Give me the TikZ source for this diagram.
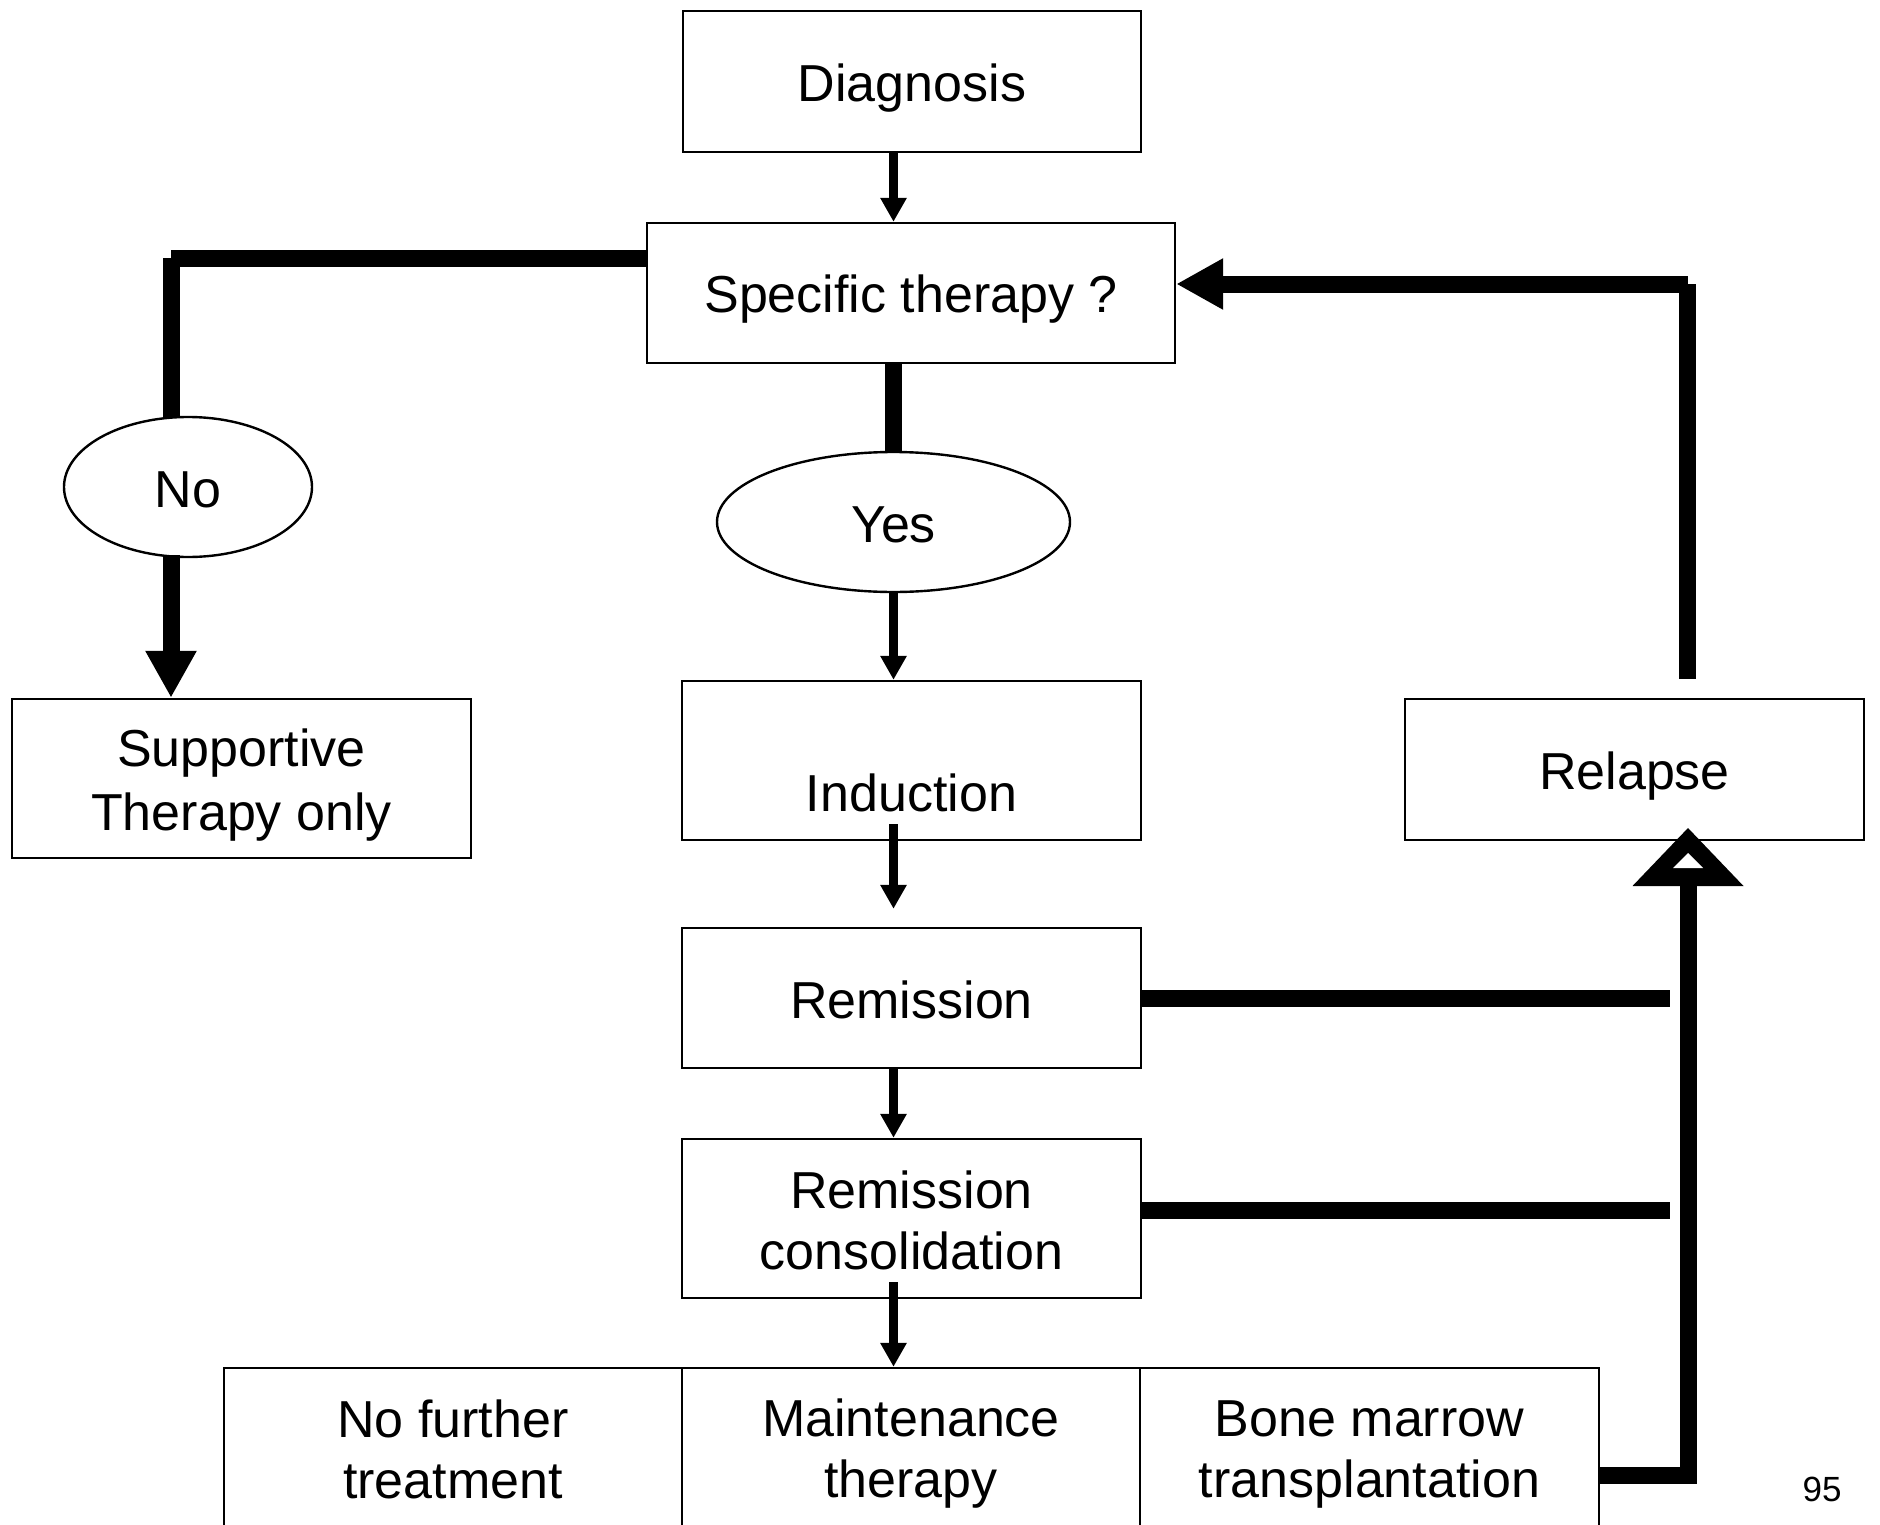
\documentclass[tikz,border=0pt]{standalone}
\usepackage{fontspec}
\setmainfont{Liberation Sans}
\usetikzlibrary{arrows.meta,shapes.geometric,calc}
\newcommand\vst{\rule[-5.25pt]{0pt}{30.5pt}}
\newcommand\bfnt{\fontsize{26pt}{30.5pt}\selectfont}
\begin{document}
\begin{tikzpicture}[x=0.5pt,y=-0.5pt,
  box/.style={draw, line width=1.2pt, fill=white, inner sep=0pt, align=center, font=\bfnt,
              minimum width=229.5pt, minimum height=70pt},
  oval/.style={ellipse, draw, line width=1.2pt, fill=white, inner sep=0pt, align=center, font=\bfnt,
              minimum height=70pt},
  thinarrow/.style={line width=4.25pt, -{Triangle[length=12pt,width=12.5pt]}},
  thickline/.style={line width=8.5pt},
  bigarrow/.style={line width=8.5pt, -{Triangle[length=23.5pt,width=24pt]}}]
\clip (0,0) rectangle (1880,1525);
\fill[white] (0,0) rectangle (1880,1525);

% nodes
\node[box, minimum width=229pt, minimum height=70.5pt] (diag) at (912,81.5) {\vst Diagnosis};
\node[box, minimum width=264pt] (spec) at (911,293) {\vst Specific therapy ?};
\node[oval, minimum width=124pt] (no) at (188,487) {\vst No};
\node[oval, minimum width=176.5pt] (yes) at (893.5,522) {\vst Yes};
\node[box, minimum height=79.5pt] (supp) at (241.5,778.5) {\vst Supportive\\\vst Therapy only};
\node[box, minimum height=79.5pt] (induc) at (911.5,760.5) {\vst\\\vst Induction};
\node[box, minimum height=70.5pt] (relapse) at (1634.5,769.5) {\vst Relapse};
\node[box] (remis) at (911.5,998) {\vst Remission};
\node[box, minimum height=79.5pt] (consol) at (911.5,1218.5) {\vst Remission\\\vst consolidation};
\node[box, minimum width=229pt, minimum height=79.5pt] (nft) at (453,1447.5) {\vst No further\\\vst treatment};
\node[box, minimum width=229pt, minimum height=79.5pt] (maint) at (911,1447.5) {\vst Maintenance\\\vst therapy};
\node[box, minimum width=229.5pt, minimum height=79.5pt] (bmt) at (1369.5,1447.5) {\vst Bone marrow\\\vst transplantation};
\node[font=\fontsize{17.5pt}{21pt}\selectfont, anchor=base, inner sep=0pt] (pg) at (1822,1501) {95};

% helper coordinates
\coordinate (spine) at (893.5,0);
\coordinate (cNo) at (171,258);
\coordinate (cR) at (1687.5,284);
\coordinate (rStop) at (1670,0);
\coordinate (cB) at (1688,1475);
\coordinate (tipT) at (1688,828);

% main spine
\draw[thinarrow] (diag.south -| spine) -- (spec.north -| spine);
\draw[thickline] (spec.south -| spine) -- (yes.north);
\draw[thinarrow] (yes.south) -- (induc.north -| spine);
\draw[thinarrow] ($(induc.south -| spine)+(0,-17)$) -- ($(remis.north -| spine)+(0,-18)$);
\draw[thinarrow] (remis.south -| spine) -- (consol.north -| spine);
\draw[thinarrow] ($(consol.south -| spine)+(0,-17)$) -- (maint.north -| spine);

% No branch
\draw[thickline] (spec.west |- cNo) -- (cNo);
\draw[thickline] (cNo) -- ($(cNo |- no.north)+(0,2)$);
\draw[bigarrow] ($(cNo |- no.south)+(0,-3)$) -- (cNo |- supp.north);

% relapse back to specific therapy
\draw[thickline] ($(relapse.north -| cR)+(0,-19)$) -- (cR);
\draw[bigarrow] (cR) -- (spec.east |- cR);

% lines to the right
\draw[thickline] (remis.east) -- (remis.east -| rStop);
\draw[thickline] ($(consol.east)+(0,-8)$) -- ($(consol.east -| rStop)+(0,-8)$);

% BMT to relapse with open triangle head
\draw[thickline, line join=miter] (bmt.east |- cB) -- (cB) -- ($(tipT)+(0,58)$);
\fill (tipT) -- ++(55.5,58) -- ++(-111,0) -- cycle;
\fill[white] ($(tipT)+(0,25)$) -- ++(15,15) -- ++(-30,0) -- cycle;
\end{tikzpicture}
\end{document}
